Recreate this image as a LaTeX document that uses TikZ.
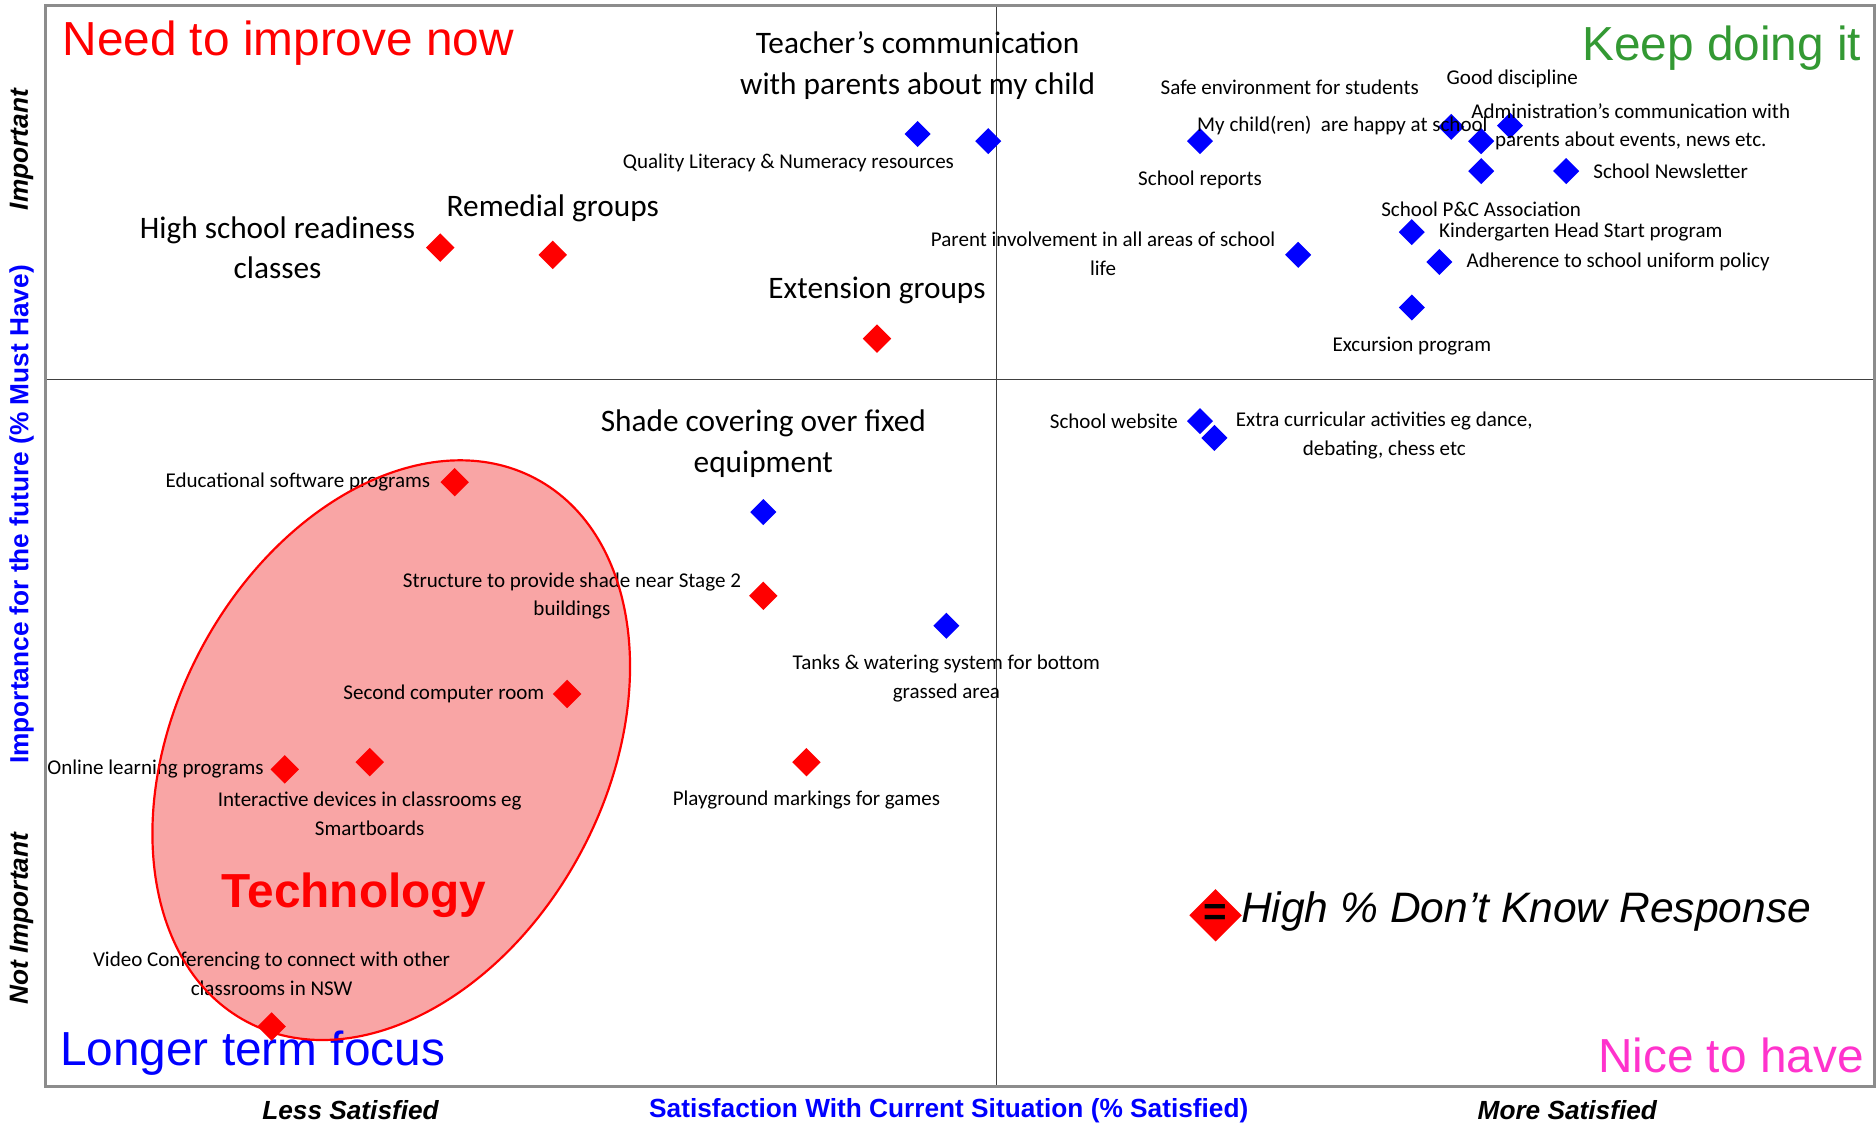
\documentclass[tikz,border=0pt]{standalone}
\usepackage{fontspec}
\setmainfont{Liberation Sans}
\newfontfamily\calibri{Carlito}
\usetikzlibrary{positioning,shapes.geometric}
\definecolor{keepgreen}{RGB}{51,153,51}
\definecolor{nicepink}{RGB}{255,51,204}
\definecolor{techpink}{RGB}{249,165,165}
\tikzset{
chart/.style={x=0.025cm,y=-0.025cm},
bluept/.style={diamond,fill=blue,inner sep=0pt,minimum size=0.55cm},
redpt/.style={diamond,fill=red,inner sep=0pt,minimum size=0.6cm},
itemtext/.style={font=\calibri\fontsize{12.5}{17}\selectfont,align=center,inner sep=0pt},
bigtext/.style={font=\calibri\fontsize{18.6}{24.2}\selectfont,align=center,inner sep=0pt},
quadrant/.style={font=\fontsize{28.4}{34}\selectfont,inner sep=0pt},
axistext/.style={font=\bfseries\itshape\fontsize{15.6}{19}\selectfont,inner sep=0pt},
axistitle/.style={font=\bfseries\fontsize{15.6}{19}\selectfont,text=blue,inner sep=0pt},
frame/.style={draw=black!45,line width=1.8pt},
midline/.style={draw=black!75,line width=0.7pt},
techarea/.style={draw=red,line width=1.3pt},
}

\begin{document}
\begin{tikzpicture}[chart]
    \useasboundingbox (0,0) rectangle (1568,940);

    \fill[techpink] (327,627) ellipse [x radius=6.425cm,y radius=4.5cm,rotate=62];

    \draw[midline] (833,5) -- (833,908);
    \draw[midline] (38,317) -- (1567,317);
    \draw[frame] (38,5) rectangle (1567,908);

    % quadrants
    \node[quadrant,text=red,anchor=west] (improve) at (52,36) {Need to improve now};
    \node[quadrant,text=keepgreen,anchor=east] (keep) at (1556,40) {Keep doing it};
    \node[quadrant,text=blue,anchor=west] (longer) at (50,880) {Longer term focus};
    \node[quadrant,text=nicepink,anchor=east] (nice) at (1558,882) {Nice to have};
    \node[quadrant,text=red,font=\bfseries\fontsize{28.4}{34}\selectfont] (tech) at (296,748) {Technology};

    % axes
    \node[axistext,rotate=90] (imp) at (18,125) {Important};
    \node[axistitle,rotate=90] (ytitle) at (18,430) {Importance for the future (\% Must Have)};
    \node[axistext,rotate=90] (notimp) at (18,768) {Not Important};
    \node[axistext] (less) at (293,928) {Less Satisfied};
    \node[axistitle] (xtitle) at (793,928) {Satisfaction With Current Situation (\% Satisfied)};
    \node[axistext] (more) at (1310,928) {More Satisfied};

    % blue points
    \node[bluept] (teacher) at (767,112) {};
    \node[bluept] (literacy) at (826,118) {};
    \node[bluept] (reports) at (1003,118) {};
    \node[bluept] (happy) at (1213,106) {};
    \node[bluept] (admin) at (1262,105) {};
    \node[bluept] (safe) at (1238,118) {};
    \node[bluept] (discipline) at (1238,143) {};
    \node[bluept] (newsletter) at (1309,143) {};
    \node[bluept] (kinder) at (1180,194) {};
    \node[bluept] (uniform) at (1203,219) {};
    \node[bluept] (parent) at (1085,213) {};
    \node[bluept] (excursion) at (1180,257) {};
    \node[bluept] (website) at (1003,352) {};
    \node[bluept] (extra) at (1015,366) {};
    \node[bluept] (shadecover) at (638,428) {};
    \node[bluept] (tanks) at (791,523) {};

    % red points
    \node[redpt] (readiness) at (368,207) {};
    \node[redpt] (remedial) at (462,213) {};
    \node[redpt] (extension) at (733,283) {};
    \node[redpt] (software) at (380,403) {};
    \node[redpt] (structure) at (638,498) {};
    \node[redpt] (computer) at (474,580) {};
    \node[redpt] (online) at (238,643) {};
    \node[redpt] (devices) at (309,637) {};
    \node[redpt] (markings) at (674,637) {};
    \node[redpt] (video) at (227,858) {};

    % labels
    \node[bigtext] (teacherl) at (767,55) {Teacher’s communication\\with parents about my child};
    \node[itemtext] (literacyl) at (659,136) {Quality Literacy \& Numeracy resources};
    \node[itemtext] (reportsl) at (1003,150) {School reports};
    \node[itemtext] (safel) at (1078,73) {Safe environment for students};
    \node[itemtext] (happyl) at (1122,105) {My child(ren) \ are happy at school};
    \node[itemtext] (disciplinel) at (1264,66) {Good discipline};
    \node[itemtext] (adminl) at (1363,106) {Administration’s communication with\\parents about events, news etc.};
    \node[itemtext,right=8pt of newsletter] (newsletterl) {School Newsletter};
    \node[itemtext] (pandc) at (1238,175) {School P\&C Association};
    \node[itemtext,right=8pt of kinder] (kinderl) {Kindergarten Head Start program};
    \node[itemtext,right=8pt of uniform] (uniforml) {Adherence to school uniform policy};
    \node[itemtext] (parentl) at (922,212) {Parent involvement in all areas of school\\life};
    \node[itemtext] (excursionl) at (1180,289) {Excursion program};
    \node[itemtext] (websitel) at (931,352) {School website};
    \node[itemtext] (extral) at (1157,364) {Extra curricular activities eg dance,\\debating, chess etc};
    \node[bigtext] (shadecoverl) at (638,371) {Shade covering over fixed\\equipment};
    \node[itemtext] (tanksl) at (791,567) {Tanks \& watering system for bottom\\grassed area};

    \node[bigtext] (readinessl) at (232,207) {High school readiness\\classes};
    \node[bigtext] (remediall) at (462,174) {Remedial groups};
    \node[bigtext] (extensionl) at (733,243) {Extension groups};
    \node[itemtext] (softwarel) at (249,403) {Educational software programs};
    \node[itemtext] (structurel) at (478,498) {Structure to provide shade near Stage 2\\buildings};
    \node[itemtext] (computerl) at (371,580) {Second computer room};
    \node[itemtext] (onlinel) at (130,643) {Online learning programs};
    \node[itemtext] (devicesl) at (309,680) {Interactive devices in classrooms eg\\Smartboards};
    \node[itemtext] (markingsl) at (674,669) {Playground markings for games};
    \node[itemtext] (videol) at (227,814) {Video Conferencing to connect with other\\classrooms in NSW};

    \draw[techarea] (327,627) ellipse [x radius=6.425cm,y radius=4.5cm,rotate=62];

    % legend
    \node[redpt,minimum size=1.1cm] (dontknow) at (1016,765) {};
    \node[font=\bfseries\fontsize{24}{24}\selectfont,inner sep=0pt] (dkeq) at (dontknow) {=};
    \node[font=\itshape\fontsize{25.3}{30}\selectfont,inner sep=0pt,anchor=west] (dkl) at (1037,762) {High \% Don’t Know Response};
\end{tikzpicture}
\end{document}
